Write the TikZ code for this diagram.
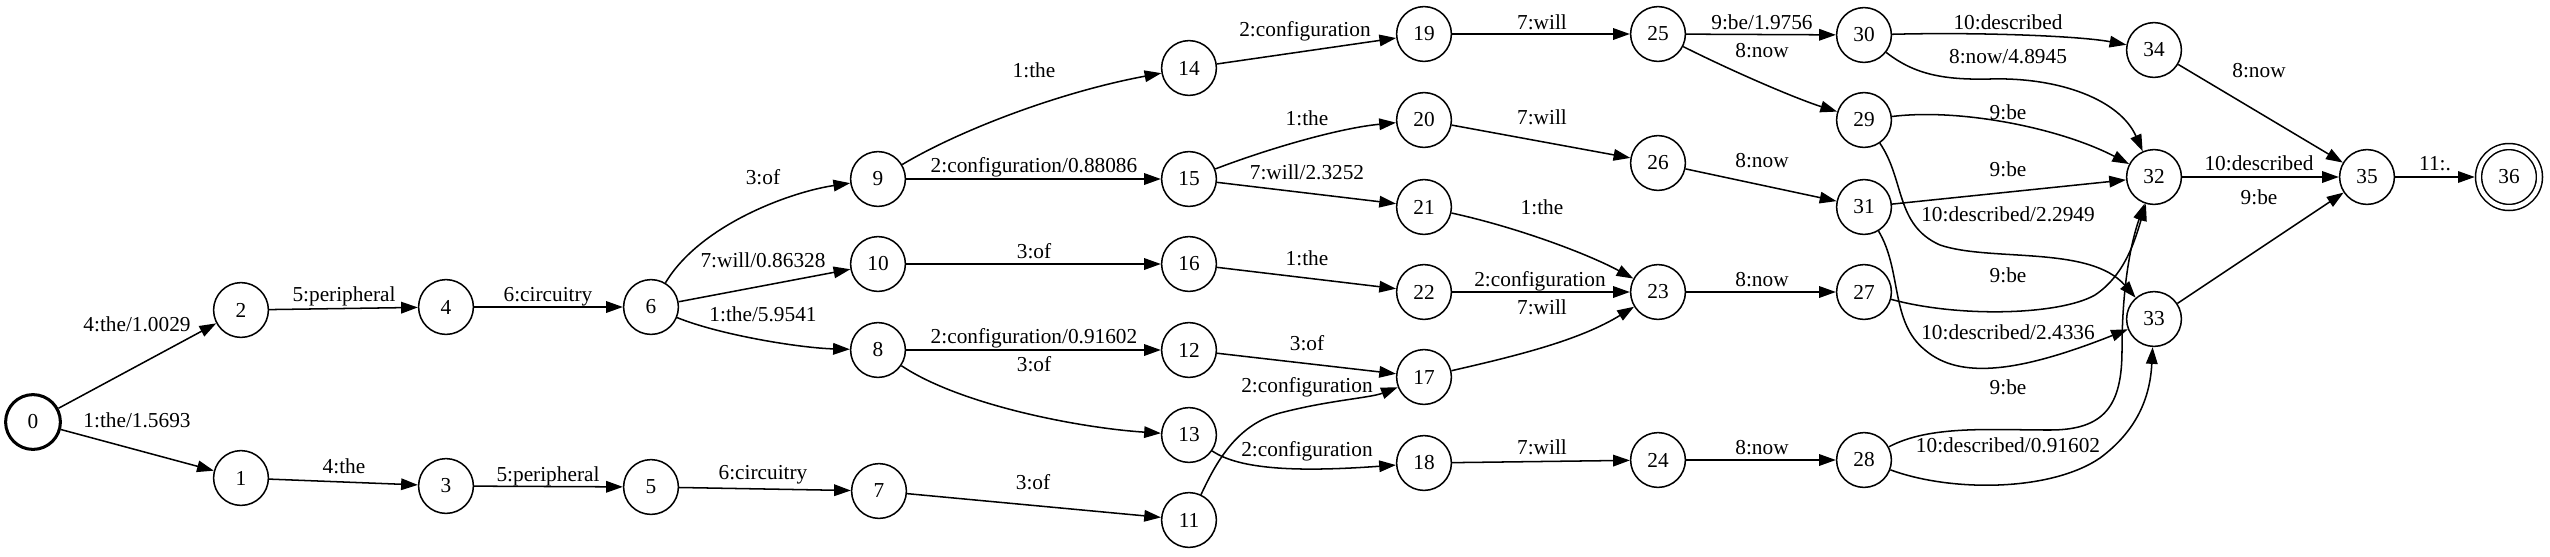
\documentclass[tikz,border=0pt]{standalone}
\usepackage{fontspec}
\setmainfont{Liberation Serif}
\usetikzlibrary{arrows.meta}
\newcommand{\lblfont}{\fontsize{14pt}{16pt}\selectfont}
\tikzset{
  st/.style={circle, draw, line width=1pt, minimum size=36pt, inner sep=0pt, font=\lblfont},
  fin/.style={circle, draw, line width=1pt, double, double distance=3pt, minimum size=40pt, inner sep=0pt, outer sep=2.5pt, font=\lblfont},
  ed/.style={-{Triangle[length=11pt,width=7.6pt]}, line width=1pt},
  lb/.style={inner sep=0pt, font=\lblfont, text height=9.5pt, text depth=3pt}
}
\begin{document}
\begin{tikzpicture}[x=0.657pt, y=-0.657pt]
\useasboundingbox (0,0) rectangle (2550,556);
% states
\node[st, line width=2pt] (n0) at (33,422) {0};
\node[st] (n2) at (241,310) {2};
\node[st] (n1) at (241,478) {1};
\node[st] (n4) at (446,307) {4};
\node[st] (n3) at (446,486) {3};
\node[st] (n6) at (651,307) {6};
\node[st] (n5) at (651,487) {5};
\node[st] (n9) at (878,179) {9};
\node[st] (n10) at (878,264) {10};
\node[st] (n8) at (878,350) {8};
\node[st] (n7) at (879,491) {7};
\node[st] (n14) at (1189,68) {14};
\node[st] (n15) at (1189,179) {15};
\node[st] (n16) at (1189,264) {16};
\node[st] (n12) at (1189,350) {12};
\node[st] (n13) at (1189,435) {13};
\node[st] (n11) at (1189,520) {11};
\node[st] (n19) at (1424,34) {19};
\node[st] (n20) at (1424,120) {20};
\node[st] (n21) at (1424,207) {21};
\node[st] (n22) at (1424,292) {22};
\node[st] (n17) at (1424,377) {17};
\node[st] (n18) at (1424,463) {18};
\node[st] (n25) at (1658,34) {25};
\node[st] (n26) at (1658,163) {26};
\node[st] (n23) at (1658,292) {23};
\node[st] (n24) at (1658,460) {24};
\node[st] (n30) at (1864,35) {30};
\node[st] (n29) at (1864,120) {29};
\node[st] (n31) at (1864,207) {31};
\node[st] (n27) at (1864,292) {27};
\node[st] (n28) at (1864,460) {28};
\node[st] (n34) at (2154,50) {34};
\node[st] (n32) at (2154,177) {32};
\node[st] (n33) at (2154,319) {33};
\node[st] (n35) at (2367,177) {35};
\node[fin] (n36) at (2509,177) {36};
% edges
\draw[ed] (n0) -- (n2);
\draw[ed] (n0) -- (n1);
\draw[ed] (n2) -- (n4);
\draw[ed] (n4) -- (n6);
\draw[ed] (n1) -- (n3);
\draw[ed] (n3) -- (n5);
\draw[ed] (n5) -- (n7);
\draw[ed] (n6) .. controls (700,225) and (790,192) .. (n9);
\draw[ed] (n6) -- (n10);
\draw[ed] (n6) .. controls (720,335) and (800,348) .. (n8);
\draw[ed] (n9) .. controls (960,130) and (1060,92) .. (n14);
\draw[ed] (n9) -- (n15);
\draw[ed] (n10) -- (n16);
\draw[ed] (n8) -- (n12);
\draw[ed] (n8) .. controls (960,405) and (1080,428) .. (n13);
\draw[ed] (n7) -- (n11);
\draw[ed] (n15) .. controls (1270,148) and (1340,128) .. (n20);
\draw[ed] (n15) -- (n21);
\draw[ed] (n16) -- (n22);
\draw[ed] (n12) -- (n17);
\draw[ed] (n11) .. controls (1215,465) and (1235,425) .. (1280,413) .. controls (1330,400) and (1370,398) .. (n17);
\draw[ed] (n13) .. controls (1240,470) and (1300,472) .. (n18);
\draw[ed] (n14) -- (n19);
\draw[ed] (n19) -- (n25);
\draw[ed] (n20) -- (n26);
\draw[ed] (n21) .. controls (1520,228) and (1590,255) .. (n23);
\draw[ed] (n22) -- (n23);
\draw[ed] (n17) .. controls (1520,355) and (1580,340) .. (n23);
\draw[ed] (n18) -- (n24);
\draw[ed] (n25) -- (n30);
\draw[ed] (n25) .. controls (1740,75) and (1800,100) .. (n29);
\draw[ed] (n26) -- (n31);
\draw[ed] (n23) -- (n27);
\draw[ed] (n24) -- (n28);
\draw[ed] (n30) .. controls (1980,32) and (2080,36) .. (n34);
\draw[ed] (n30) .. controls (1915,75) and (1945,80) .. (1990,79) .. controls (2060,77) and (2120,100) .. (n32);
\draw[ed] (n29) .. controls (1960,108) and (2060,128) .. (n32);
\draw[ed] (n29) .. controls (1905,180) and (1895,225) .. (1940,245) .. controls (1990,262) and (2090,245) .. (n33);
\draw[ed] (n31) -- (n32);
\draw[ed] (n31) .. controls (1902,270) and (1890,322) .. (1925,350) .. controls (1960,380) and (2020,372) .. (n33);
\draw[ed] (n27) .. controls (1960,318) and (2060,315) .. (2095,295) .. controls (2125,275) and (2135,240) .. (n32);
\draw[ed] (n28) .. controls (1930,425) and (1990,430) .. (2050,430) .. controls (2105,430) and (2122,405) .. (2122,350) .. controls (2122,290) and (2130,245) .. (n32);
\draw[ed] (n28) .. controls (1950,492) and (2050,492) .. (2100,458) .. controls (2135,432) and (2150,400) .. (n33);
\draw[ed] (n34) -- (n35);
\draw[ed] (n32) -- (n35);
\draw[ed] (n33) -- (n35);
\draw[ed] (n35) -- (n36);
% labels
\node[lb] (l02) at (137,327) {4:the/1.0029};
\node[lb] (l01) at (137,423) {1:the/1.5693};
\node[lb] (l24) at (344,297) {5:peripheral};
\node[lb] (l46) at (548,297) {6:circuitry};
\node[lb] (l13) at (344,469) {4:the};
\node[lb] (l35) at (548,477) {5:peripheral};
\node[lb] (l57) at (763,475) {6:circuitry};
\node[lb] (l69) at (763,180) {3:of};
\node[lb] (l610) at (763,263) {7:will/0.86328};
\node[lb] (l68) at (763,317) {1:the/5.9541};
\node[lb] (l914) at (1034,73) {1:the};
\node[lb] (l915) at (1034,168) {2:configuration/0.88086};
\node[lb] (l1016) at (1034,254) {3:of};
\node[lb] (l812) at (1034,339) {2:configuration/0.91602};
\node[lb] (l813) at (1034,367) {3:of};
\node[lb] (l711) at (1033,485) {3:of};
\node[lb] (l1520) at (1307,121) {1:the};
\node[lb] (l1521) at (1307,175) {7:will/2.3252};
\node[lb] (l1622) at (1307,261) {1:the};
\node[lb] (l1217) at (1307,346) {3:of};
\node[lb] (l1117) at (1307,388) {2:configuration};
\node[lb] (l1318) at (1307,452) {2:configuration};
\node[lb] (l1419) at (1305,32) {2:configuration};
\node[lb] (l1925) at (1542,25) {7:will};
\node[lb] (l2026) at (1542,120) {7:will};
\node[lb] (l2123) at (1542,210) {1:the};
\node[lb] (l2223) at (1540,282) {2:configuration};
\node[lb] (l1723) at (1542,310) {7:will};
\node[lb] (l1824) at (1542,450) {7:will};
\node[lb] (l2530) at (1762,25) {9:be/1.9756};
\node[lb] (l2529) at (1762,53) {8:now};
\node[lb] (l2631) at (1762,163) {8:now};
\node[lb] (l2327) at (1762,282) {8:now};
\node[lb] (l2428) at (1762,450) {8:now};
\node[lb] (l3034) at (2008,25) {10:described};
\node[lb] (l3032) at (2008,59) {8:now/4.8945};
\node[lb] (l2932) at (2008,115) {9:be};
\node[lb] (l3132) at (2008,172) {9:be};
\node[lb] (l2933) at (2008,217) {10:described/2.2949};
\node[lb] (l2732) at (2008,278) {9:be};
\node[lb] (l3133) at (2008,335) {10:described/2.4336};
\node[lb] (l2832) at (2008,390) {9:be};
\node[lb] (l2833) at (2008,448) {10:described/0.91602};
\node[lb] (l3435) at (2259,73) {8:now};
\node[lb] (l3235) at (2259,166) {10:described};
\node[lb] (l3335) at (2259,200) {9:be};
\node[lb] (l3536) at (2435,166) {11:.};
\end{tikzpicture}
\end{document}
